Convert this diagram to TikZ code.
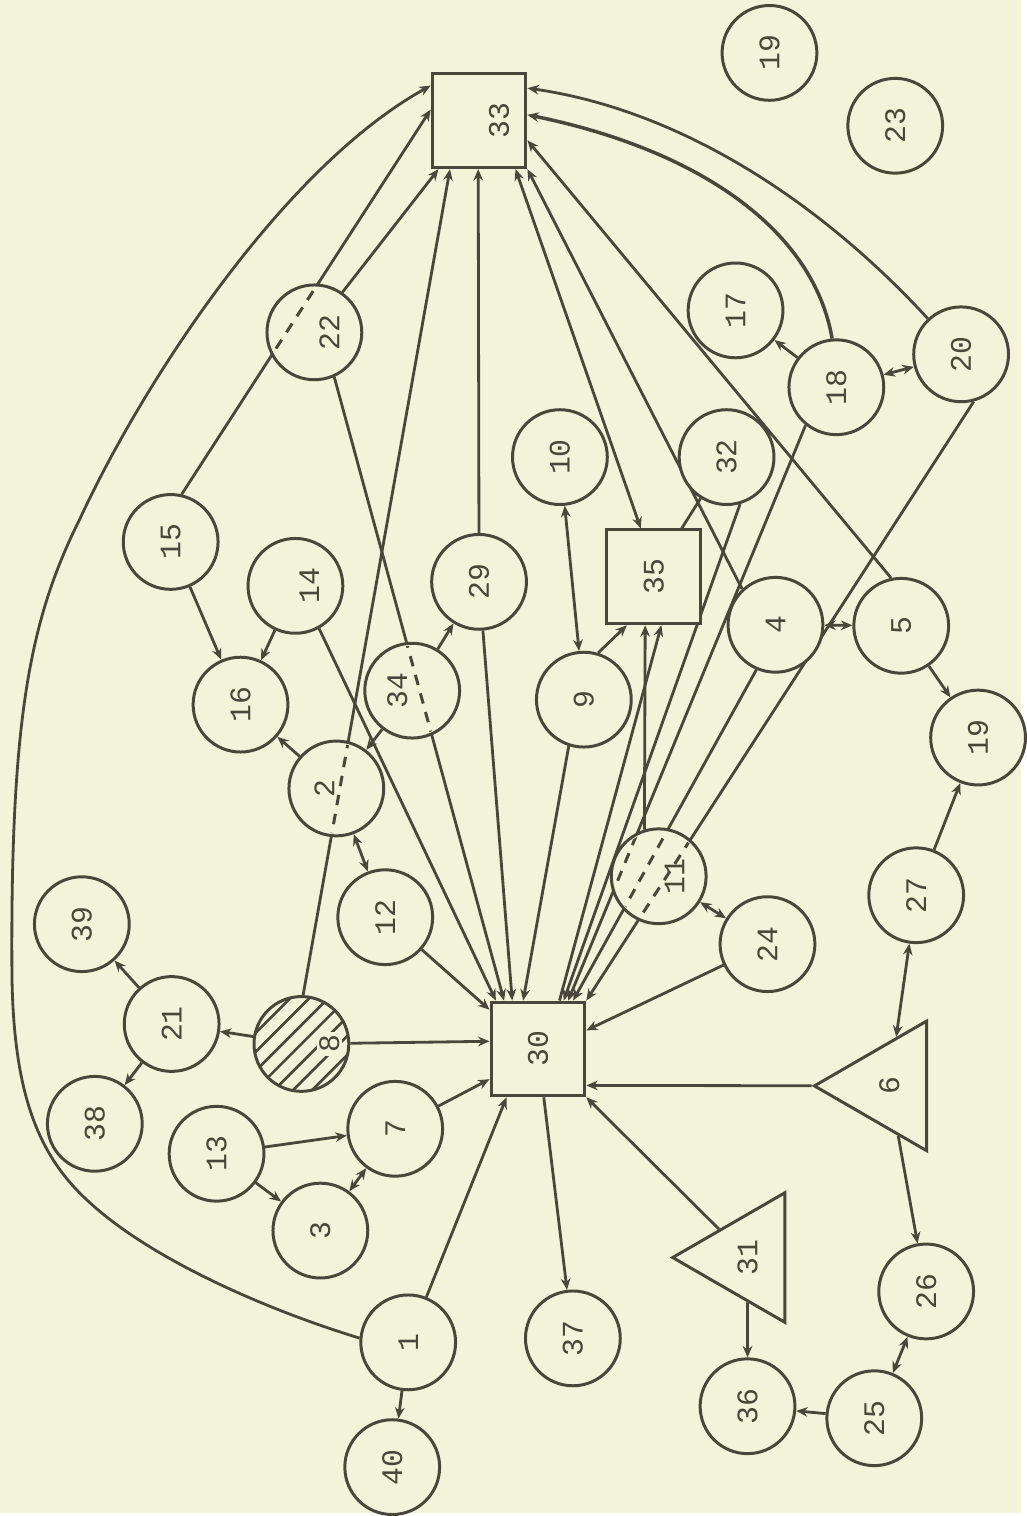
\documentclass[tikz,border=0pt]{standalone}
\usepackage{fontspec}
\setmonofont{Liberation Mono}
\usepackage{tikz}
\usetikzlibrary{arrows.meta, shapes.geometric, backgrounds}
\definecolor{paper}{RGB}{243, 243, 217}
\definecolor{ink}{RGB}{74, 70, 60}
\newcommand{\numfont}{\ttfamily\fontsize{17}{17}\selectfont}
\newcommand{\uptxt}[1]{\rotatebox{90}{#1}}

\begin{document}
\begin{tikzpicture}[
    x=0.02cm, y=-0.02cm,
    circ/.style={circle, draw=ink, line width=1.7pt, fill=paper, minimum size=1.9cm, inner sep=0pt, text=ink, font=\numfont},
    box/.style={rectangle, draw=ink, line width=1.7pt, fill=paper, minimum size=1.88cm, inner sep=0pt, text=ink, font=\numfont},
    tri/.style={regular polygon, regular polygon sides=3, shape border rotate=90, draw=ink, line width=1.7pt, fill=paper, minimum size=3cm, inner sep=0pt, text=ink, font=\numfont},
    lab/.style={font=\numfont, inner sep=0pt, text=ink},
    arr/.style={-{Stealth[length=6.5pt,width=5.5pt]}, line width=1.6pt, draw=ink},
    both/.style={{Stealth[length=6.5pt,width=5.5pt]}-{Stealth[length=6.5pt,width=5.5pt]}, line width=1.6pt, draw=ink},
    link/.style={line width=1.6pt, draw=ink},
    hid/.style={draw=ink, line width=1.7pt, dash pattern=on 6pt off 5pt}
]
    % Sinks
    \node[box, label={[lab, xshift=0.4cm]center:\uptxt{33}}] (n33) at (480,121) {};
    \node[box] (n35) at (655,578) {\uptxt{35}};
    \node[box] (n30) at (539,1051) {\uptxt{30}};
    \node[tri] (n6) at (891,1088) {\uptxt{6}};
    \node[tri] (n31) at (749,1260) {\uptxt{31}};

    % Upper half
    \node[circ] (n19a) at (771,53) {\uptxt{19}};
    \node[circ] (n23) at (897,126) {\uptxt{23}};
    \node[circ, label={[lab, xshift=0.3cm]center:\uptxt{22}}] (n22) at (315,333) {};
    \node[circ] (n17) at (737,311) {\uptxt{17}};
    \node[circ] (n18) at (838,388) {\uptxt{18}};
    \node[circ] (n20) at (963,355) {\uptxt{20}};
    \node[circ] (n10) at (561,458) {\uptxt{10}};
    \node[circ] (n32) at (728,458) {\uptxt{32}};
    \node[circ] (n15) at (171,543) {\uptxt{15}};
    \node[circ, label={[lab, xshift=0.28cm]center:\uptxt{14}}] (n14) at (296,587) {};
    \node[circ] (n29) at (480,583) {\uptxt{29}};
    \node[circ] (n16) at (241,706) {\uptxt{16}};
    \node[circ, label={[lab, xshift=-0.3cm]center:\uptxt{34}}] (n34) at (413,692) {};
    \node[circ] (n9) at (585,701) {\uptxt{9}};
    \node[circ] (n4) at (777,626) {\uptxt{4}};
    \node[circ] (n5) at (903,627) {\uptxt{5}};
    \node[circ] (n19b) at (980,739) {\uptxt{19}};
    \node[circ, label={[lab, xshift=-0.24cm]center:\uptxt{2}}] (n2) at (337,790) {};
    \node[circ, label={[lab, xshift=0.32cm]center:\uptxt{11}}] (n11) at (660,878) {};
    \node[circ] (n12) at (386,919) {\uptxt{12}};
    \node[circ] (n27) at (918,897) {\uptxt{27}};
    \node[circ] (n24) at (769,946) {\uptxt{24}};

    % Lower half
    \node[circ] (n39) at (82,926) {\uptxt{39}};
    \node[circ] (n21) at (172,1026) {\uptxt{21}};
    \node[circ, path picture={
        \foreach \k in {-3,...,3}
            \draw[ink, line width=1.5pt] ([shift={(\k*9.5-70,\k*9.5+70)}]path picture bounding box.center) -- ++(140,-140);
        },
        label={[lab, xshift=0.56cm, fill=paper, inner sep=1.5pt]center:\uptxt{8}}] (n8) at (302,1046) {};
    \node[circ] (n38) at (95,1126) {\uptxt{38}};
    \node[circ] (n13) at (217,1156) {\uptxt{13}};
    \node[circ] (n7) at (396,1131) {\uptxt{7}};
    \node[circ] (n3) at (321,1233) {\uptxt{3}};
    \node[circ] (n1) at (409,1345) {\uptxt{1}};
    \node[circ] (n37) at (574,1341) {\uptxt{37}};
    \node[circ] (n26) at (928,1294) {\uptxt{26}};
    \node[circ] (n40) at (393,1470) {\uptxt{40}};
    \node[circ] (n36) at (749,1409) {\uptxt{36}};
    \node[circ] (n25) at (876,1421) {\uptxt{25}};

    \begin{scope}[on background layer]
        \fill[paper] (0,0) rectangle (1023,1516);

        % Into 33
        \draw[arr] (n1.175) .. controls (260,1310) and (150,1260) .. (90,1205)
            .. controls (40,1160) and (14,1100) .. (12,980)
            .. controls (10,720) and (30,620) .. (80,520)
            .. controls (140,390) and (280,170) .. (n33.144);
        \draw[arr] (n15.77) -- (n33.167);
        \draw[arr] (n22.55) -- (n33.230);
        \draw[arr] (n8.88) -- (n33.239);
        \draw[arr] (n29) -- (n33.269);
        \draw[both] (n33.307) -- (n35.105);
        \draw[arr] (n4.133) -- (n33.south east);
        \draw[arr] (n5.102) -- (n33.338);
        \draw[arr, line width=2pt] (n18.95) .. controls (815,230) and (700,150) .. (n33.7);
        \draw[arr] (n20.133) .. controls (820,200) and (680,110) .. (n33.34);

        % Into 35
        \draw[both] (n10) -- (n9);
        \draw[arr] (n9.73) -- (n35.-119);
        \draw[arr] (n11.107) -- (n35.-100);
        \draw[arr] (n30.66) -- (n35.-81);
        \draw[link] (n32) -- (n35.60);

        % Into 30
        \draw[arr] (n9.-108) -- (n30.107);
        \draw[arr] (n32.-74) -- (n30.62);
        \draw[arr] (n18.-129) -- (n30.58);
        \draw[arr] (n4.-113) -- (n30.54);
        \draw[arr] (n20.-75) -- (n30.45);
        \draw[arr] (n24) -- (n30.21);
        \draw[arr] (n6) -- (n30.-37);
        \draw[arr] (n31) -- (n30.south east);
        \draw[arr] (n1) -- (n30.237);
        \draw[arr] (n7) -- (n30.212);
        \draw[arr] (n8) -- (n30.171);
        \draw[arr] (n12) -- (n30.141);
        \draw[arr] (n14.-61) -- (n30.131);
        \draw[arr] (n22.-66) -- (n30.125);
        \draw[arr] (n29) -- (n30.118);
        \draw[arr] (n30) -- (n37);

        % Left cluster
        \draw[arr] (n34) -- (n29);
        \draw[arr] (n34) -- (n2);
        \draw[arr] (n2) -- (n16);
        \draw[arr] (n14) -- (n16);
        \draw[arr] (n15) -- (n16);
        \draw[both] (n2) -- (n12);
        \draw[arr] (n8) -- (n21);
        \draw[arr] (n21) -- (n39);
        \draw[arr] (n21) -- (n38);
        \draw[arr] (n13) -- (n7);
        \draw[arr] (n13) -- (n3);
        \draw[both] (n7) -- (n3);
        \draw[arr] (n1) -- (n40);

        % Right cluster
        \draw[arr] (n18) -- (n17);
        \draw[both] (n18) -- (n20);
        \draw[both] (n4) -- (n5);
        \draw[arr] (n5) -- (n19b);
        \draw[arr] (n27) -- (n19b);
        \draw[both] (n6) -- (n27);
        \draw[both] (n11) -- (n24);
        \draw[arr] (n6) -- (n26);
        \draw[both] (n25) -- (n26);
        \draw[arr] (n25) -- (n36);
        \draw[arr] (n31) -- (n36);
    \end{scope}

    % Hidden parts of lines crossing circles
    \begin{scope}
        \clip (n22) circle[radius=0.9cm];
        \draw[hid] (n15.77) -- (n33.167);
    \end{scope}
    \begin{scope}
        \clip (n34) circle[radius=0.9cm];
        \draw[hid] (n22.-66) -- (n30.125);
    \end{scope}
    \begin{scope}
        \clip (n2) circle[radius=0.9cm];
        \draw[hid] (n8.88) -- (n33.239);
    \end{scope}
    \begin{scope}
        \clip (n11) circle[radius=0.9cm];
        \draw[hid] (n18.-129) -- (n30.58);
        \draw[hid] (n4.-113) -- (n30.54);
        \draw[hid] (n20.-75) -- (n30.45);
    \end{scope}
\end{tikzpicture}
\end{document}
